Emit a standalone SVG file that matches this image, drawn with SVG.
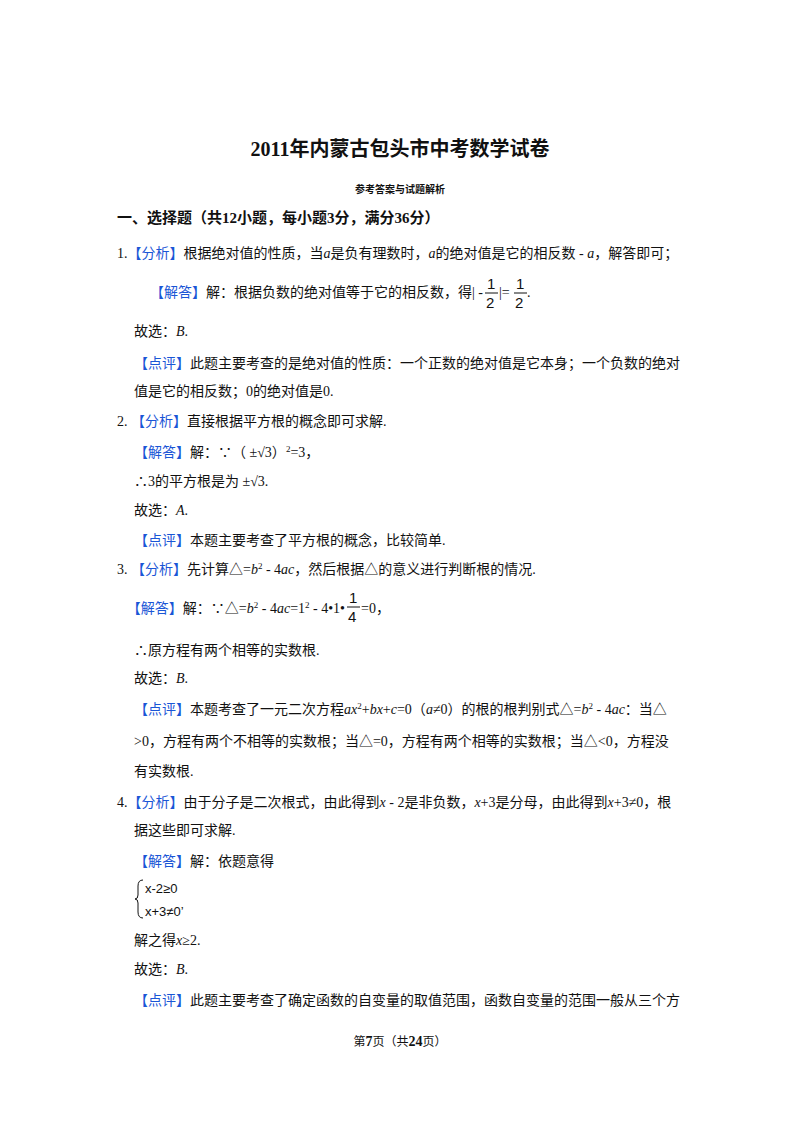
<svg xmlns="http://www.w3.org/2000/svg" width="800" height="1132" viewBox="0 0 800 1132">
<style>
text{font-family:"Liberation Serif","Noto Sans CJK SC",serif;font-size:14px;fill:#111}
.b{fill:#1a56d6}
.i{font-style:italic}
.s{font-family:"Liberation Sans","Noto Sans CJK SC",sans-serif}
.h{font-weight:bold}
</style>
<rect width="800" height="1132" fill="#fff"/>
<g id="title"><text x="400" y="156" text-anchor="middle" class="h" style="font-size:20px">2011年内蒙古包头市中考数学试卷</text>
<text x="400" y="193" text-anchor="middle" class="h" style="font-size:10px">参考答案与试题解析</text>
<text x="117" y="223" class="h" style="font-size:15px">一、选择题（共12小题，每小题3分，满分36分）</text></g>
<g id="q1">
<text x="117" y="258">1.<tspan class="b">【分析】</tspan>根据绝对值的性质，当<tspan class="i">a</tspan>是负有理数时，<tspan class="i">a</tspan>的绝对值是它的相反数 - <tspan class="i">a</tspan>，解答即可；</text>
<text x="483" y="297" text-anchor="end"><tspan class="b">【解答】</tspan>解：根据负数的绝对值等于它的相反数，得| - </text>
<text x="487" y="289" class="s" style="font-size:15px">1</text><line x1="485" y1="293" x2="498" y2="293" stroke="#111"/><text x="486" y="308" class="s" style="font-size:15px">2</text>
<text x="499" y="297">|=</text>
<text x="516" y="289" class="s" style="font-size:15px">1</text><line x1="514" y1="293" x2="527" y2="293" stroke="#111"/><text x="515" y="308" class="s" style="font-size:15px">2</text>
<text x="527" y="297">.</text>
<text x="134" y="336">故选：<tspan class="i">B</tspan>.</text>
<text x="134" y="368"><tspan class="b">【点评】</tspan>此题主要考查的是绝对值的性质：一个正数的绝对值是它本身；一个负数的绝对</text>
<text x="134" y="396">值是它的相反数；0的绝对值是0.</text></g>
<g id="q2">
<text x="117" y="426">2.  <tspan class="b">【分析】</tspan>直接根据平方根的概念即可求解.</text>
<text x="134" y="457"><tspan class="b">【解答】</tspan>解：∵（  ±√3）<tspan dy="-5" style="font-size:9px">2</tspan><tspan dy="5">=3，</tspan></text>
<text x="134" y="486">∴3的平方根是为  ±√3.</text>
<text x="134" y="515">故选：<tspan class="i">A</tspan>.</text>
<text x="134" y="545"><tspan class="b">【点评】</tspan>本题主要考查了平方根的概念，比较简单.</text></g>
<g id="q3">
<text x="117" y="574">3.  <tspan class="b">【分析】</tspan>先计算△=<tspan class="i">b</tspan><tspan dy="-5" style="font-size:9px">2</tspan><tspan dy="5"> - 4</tspan><tspan class="i">ac</tspan>，然后根据△的意义进行判断根的情况.</text>
<text x="345" y="613" text-anchor="end"><tspan class="b">【解答】</tspan>解：∵△=<tspan class="i">b</tspan><tspan dy="-5" style="font-size:9px">2</tspan><tspan dy="5"> - 4</tspan><tspan class="i">ac</tspan>=1<tspan dy="-5" style="font-size:9px">2</tspan><tspan dy="5"> - 4•1•</tspan></text>
<text x="349" y="603" class="s" style="font-size:15px">1</text><line x1="347" y1="607" x2="360" y2="607" stroke="#111"/><text x="348" y="622" class="s" style="font-size:15px">4</text>
<text x="361" y="613">=0，</text>
<text x="134" y="655">∴原方程有两个相等的实数根.</text>
<text x="134" y="683">故选：<tspan class="i">B</tspan>.</text>
<text x="134" y="714"><tspan class="b">【点评】</tspan>本题考查了一元二次方程<tspan class="i">ax</tspan><tspan dy="-5" style="font-size:9px">2</tspan><tspan dy="5">+</tspan><tspan class="i">bx</tspan>+<tspan class="i">c</tspan>=0（<tspan class="i">a</tspan>≠0）的根的根判别式△=<tspan class="i">b</tspan><tspan dy="-5" style="font-size:9px">2</tspan><tspan dy="5"> - 4</tspan><tspan class="i">ac</tspan>：当△</text>
<text x="134" y="746">&gt;0，方程有两个不相等的实数根；当△=0，方程有两个相等的实数根；当△&lt;0，方程没</text>
<text x="134" y="776">有实数根.</text></g>
<g id="q4">
<text x="117" y="807">4.<tspan class="b">【分析】</tspan>由于分子是二次根式，由此得到<tspan class="i">x</tspan> - 2是非负数，<tspan class="i">x</tspan>+3是分母，由此得到<tspan class="i">x</tspan>+3≠0，根</text>
<text x="134" y="835">据这些即可求解.</text>
<text x="134" y="866"><tspan class="b">【解答】</tspan>解：依题意得</text>
<path d="M143 880 Q138 880 138 886 L138 895 Q138 899 135 899 Q138 899 138 903 L138 912 Q138 918 143 918" fill="none" stroke="#111"/>
<text x="145" y="893" class="s" style="font-size:13px">x-2≥0</text>
<text x="145" y="916" class="s" style="font-size:13px">x+3≠0’</text>
<text x="134" y="945">解之得<tspan class="i">x</tspan>≥2.</text>
<text x="134" y="974">故选：<tspan class="i">B</tspan>.</text>
<text x="134" y="1005"><tspan class="b">【点评】</tspan>此题主要考查了确定函数的自变量的取值范围，函数自变量的范围一般从三个方</text></g>
<g id="footer"><text x="400" y="1046" text-anchor="middle" style="font-size:12px">第<tspan class="h" style="font-size:14px">7</tspan>页（共<tspan class="h" style="font-size:14px">24</tspan>页）</text></g>
</svg>
